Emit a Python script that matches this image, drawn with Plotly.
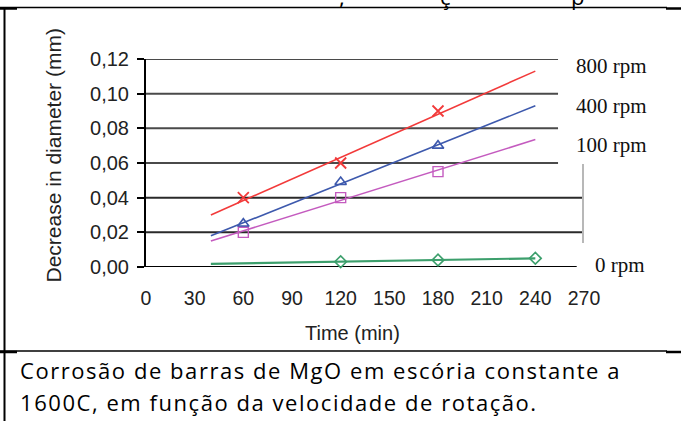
import plotly.graph_objects as go

# ---------------- data ----------------
time_min = [60, 120, 180]
rpm800 = [0.040, 0.060, 0.090]
rpm400 = [0.025, 0.049, 0.070]
rpm100 = [0.020, 0.040, 0.055]
time_0rpm = [120, 180, 240]
rpm0 = [0.003, 0.004, 0.005]

trend_x = [40, 240]
trend800 = [0.030, 0.113]
trend400 = [0.018, 0.093]
trend100 = [0.015, 0.0735]
trend0 = [0.0018, 0.0050]

x_ticks = [0, 30, 60, 90, 120, 150, 180, 210, 240, 270]
y_ticks = [0.00, 0.02, 0.04, 0.06, 0.08, 0.10, 0.12]

series_labels = ["800 rpm", "400 rpm", "100 rpm", "0 rpm"]

caption_lines = ["Corrosão de barras de MgO em escória constante a",
                 "1600C, em função da velocidade de rotação."]

x_title = "Time (min)"
y_title = "Decrease in diameter (mm)"

# ---------------- layout geometry ----------------
W, H = 681, 421
L, R, T, B = 146, 97, 59, 154
PW, PH = W - L - R, H - T - B


def px(xp):
    return (xp - L) / PW


def py(yp):
    return (H - B - yp) / PH


RED = "#f23a3a"
BLUE = "#3d59ad"
MAG = "#c45bbf"
GREEN = "#3c9f6c"

fig = go.Figure()

for ty, col in [(trend800, RED), (trend400, BLUE), (trend100, MAG), (trend0, GREEN)]:
    fig.add_trace(go.Scatter(x=trend_x, y=ty, mode="lines",
                             line=dict(color=col, width=1.6 if col != GREEN else 2.2),
                             showlegend=False, hoverinfo="skip", cliponaxis=False))

fig.add_trace(go.Scatter(x=time_min, y=rpm800, mode="markers", showlegend=False,
                         marker=dict(symbol="x-thin-open", size=11, color=RED,
                                     line=dict(color=RED, width=1.8))))
fig.add_trace(go.Scatter(x=time_min, y=rpm400, mode="markers", showlegend=False,
                         marker=dict(symbol="triangle-up-open", size=10, color=BLUE,
                                     line=dict(color=BLUE, width=1.6))))
fig.add_trace(go.Scatter(x=time_min, y=rpm100, mode="markers", showlegend=False,
                         marker=dict(symbol="square-open", size=10, color=MAG,
                                     line=dict(color=MAG, width=1.4))))
fig.add_trace(go.Scatter(x=time_0rpm, y=rpm0, mode="markers", showlegend=False,
                         cliponaxis=False,
                         marker=dict(symbol="diamond-open", size=9, color=GREEN,
                                     line=dict(color=GREEN, width=1.6))))

shapes = []
# gridlines
for v in y_ticks[1:]:
    x_end = 269.4 if v <= 0.04 else 254.0
    shapes.append(dict(type="line", xref="x", yref="y", x0=0, x1=x_end, y0=v, y1=v,
                       line=dict(color="#2a2a2a" if v <= 0.04 else "#4a4a4a", width=2),
                       layer="below"))
# x axis line
shapes.append(dict(type="line", xref="x", yref="y", x0=0, x1=265.5, y0=0, y1=0,
                   line=dict(color="black", width=2), layer="below"))
# x ticks (none drawn at the last label)
for v in x_ticks[:-1]:
    shapes.append(dict(type="line", xref="x", yref="y", ysizemode="pixel", yanchor=0,
                       x0=v, x1=v, y0=0, y1=-6, line=dict(color="black", width=2)))
# grey remnant of right border
shapes.append(dict(type="line", xref="paper", yref="paper", x0=px(583), x1=px(583),
                   y0=py(164), y1=py(243), line=dict(color="#b8b8b8", width=2)))

# table borders
shapes.append(dict(type="line", xref="paper", yref="paper", x0=px(0), x1=px(667),
                   y0=py(7.5), y1=py(7.5), line=dict(color="black", width=1.5)))
shapes.append(dict(type="line", xref="paper", yref="paper", x0=px(0), x1=px(17),
                   y0=py(8.5), y1=py(8.5), line=dict(color="black", width=2.5)))
shapes.append(dict(type="line", xref="paper", yref="paper", x0=px(666), x1=px(681),
                   y0=py(8.5), y1=py(8.5), line=dict(color="black", width=2.5)))
shapes.append(dict(type="line", xref="paper", yref="paper", x0=px(4.5), x1=px(4.5),
                   y0=py(8), y1=py(421), line=dict(color="black", width=2)))
shapes.append(dict(type="line", xref="paper", yref="paper", x0=px(0), x1=px(667),
                   y0=py(351), y1=py(351), line=dict(color="black", width=1.5)))
shapes.append(dict(type="line", xref="paper", yref="paper", x0=px(0), x1=px(17),
                   y0=py(352), y1=py(352), line=dict(color="black", width=2.5)))
shapes.append(dict(type="line", xref="paper", yref="paper", x0=px(666), x1=px(681),
                   y0=py(352), y1=py(352), line=dict(color="black", width=2.5)))

annotations = []
label_pos = [(574, 66), (574, 106), (574, 145), (593, 265)]
for lab, (lx, ly) in zip(series_labels, label_pos):
    annotations.append(dict(text=lab, x=px(lx), y=py(ly), xref="paper", yref="paper",
                            xanchor="left", yanchor="middle", showarrow=False,
                            font=dict(family="Liberation Serif", size=21, color="#111")))

annotations.append(dict(text=x_title, x=px(352.5), y=py(333), xref="paper", yref="paper",
                        xanchor="center", yanchor="middle", showarrow=False,
                        font=dict(family="Liberation Sans", size=20, color="#222")))
annotations.append(dict(text=y_title, x=px(53), y=py(155.5), xref="paper", yref="paper",
                        xanchor="center", yanchor="middle", showarrow=False, textangle=-90,
                        font=dict(family="Liberation Sans", size=21, color="#222")))

for i, line in enumerate(caption_lines):
    annotations.append(dict(text='<span style="letter-spacing:1.55px">' + line + '</span>',
                            x=px(18), y=py(370 + 32 * i), xref="paper",
                            yref="paper", xanchor="left", yanchor="middle", showarrow=False,
                            font=dict(family="Open Sans", size=22, color="black")))

# descenders of the text line above, cut by the page top
for ch, cx in [(",", 342), ("ç", 445), ("p", 577)]:
    annotations.append(dict(text=ch, x=px(cx), y=py(-4), xref="paper", yref="paper",
                            xanchor="center", yanchor="middle", showarrow=False,
                            font=dict(family="Open Sans", size=22, color="black")))

fig.update_layout(
    width=W, height=H,
    margin=dict(l=L, r=R, t=T, b=B, pad=0),
    paper_bgcolor="white", plot_bgcolor="white",
    separators=",.",
    showlegend=False,
    shapes=shapes,
    annotations=annotations,
    xaxis=dict(range=[0, 270], tickvals=x_ticks, ticks="", showgrid=False,
               zeroline=False, showline=False, ticklabelstandoff=17,
               tickfont=dict(family="Liberation Sans", size=19.5, color="#222")),
    yaxis=dict(range=[0, 0.12], tickvals=y_ticks, tickformat=".2f", ticks="outside",
               ticklen=7, tickwidth=2, tickcolor="black", showgrid=False, zeroline=False,
               showline=True, linecolor="black", linewidth=2, ticklabelstandoff=4,
               tickfont=dict(family="Liberation Sans", size=20, color="#222")),
)

fig.write_html("out.html",
               config={"displayModeBar": False},
               post_script="document.body.style.margin='0';"
                           "document.body.style.overflow='hidden';")
